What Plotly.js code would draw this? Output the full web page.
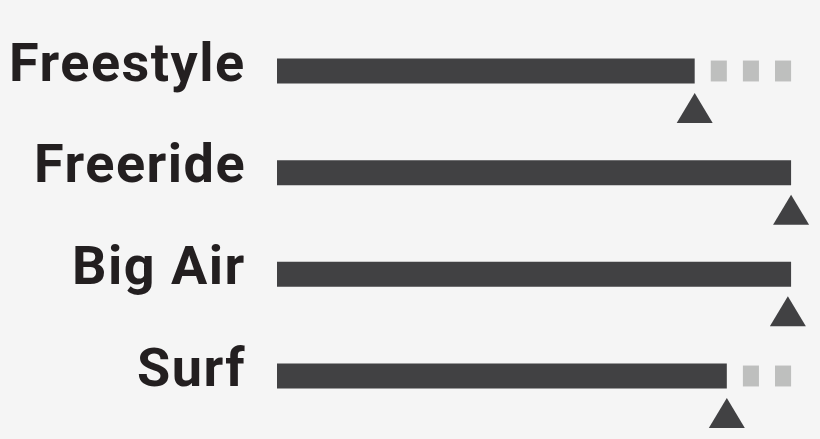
<!DOCTYPE html>
<html>
<head>
<meta charset="utf-8">
<script src="https://cdn.plot.ly/plotly-3.0.1.min.js"></script>
<style>
  html, body { margin: 0; padding: 0; background: #f5f5f5; }
  #plot { width: 820px; height: 439px; }
  .annotation-text { letter-spacing: 1.5px; }
</style>
</head>
<body>
<div id="plot"></div>
<script>
var categories = ['Freestyle', 'Freeride', 'Big Air', 'Surf'];
var scores = [13, 16, 16, 14];
var targets = [13, 16, 15.9, 14];
var maxScore = 16;

// rows from top to bottom
var rows = categories.map((_, i) => categories.length - 1 - i);

// grey dashes fill the rest of the scale, one per step
var dashY = [], dashBase = [], dashLen = [];
scores.forEach((s, i) => {
    for (var k = Math.ceil(s); k < maxScore; k++) {
        dashY.push(rows[i]);
        dashBase.push(k + 0.5);
        dashLen.push(0.5);
    }
});

var dark = '#414143';

var data = [
    {type: 'bar', orientation: 'h', y: dashY, x: dashLen, base: dashBase,
     width: 0.206, marker: {color: '#bebfbe'}, hoverinfo: 'skip'},
    {type: 'bar', orientation: 'h', y: rows, x: scores, base: 0,
     width: 0.246, marker: {color: dark}, hoverinfo: 'skip'}
];

// triangles sit just under each bar, pointing up at the target
var shapes = targets.map((t, i) => ({
    type: 'path', xref: 'x', yref: 'y',
    xsizemode: 'pixel', ysizemode: 'pixel',
    xanchor: t, yanchor: rows[i],
    path: 'M0,-22 L18,-52 L-18,-52 Z',
    fillcolor: dark, line: {width: 0}
}));

var annotations = categories.map((c, i) => ({
    text: c, xref: 'paper', yref: 'y', x: 0, y: rows[i],
    xanchor: 'right', yanchor: 'middle', xshift: -29, yshift: 9,
    showarrow: false,
    font: {family: 'Roboto', size: 54, weight: 'bold', color: '#231f20'}
}));

var layout = {
    width: 820, height: 439,
    margin: {l: 277, r: 0, t: 10, b: 2},
    paper_bgcolor: '#f5f5f5', plot_bgcolor: '#f5f5f5',
    barmode: 'overlay',
    showlegend: false,
    xaxis: {range: [0, 16.9], visible: false, fixedrange: true},
    yaxis: {range: [-0.6, 3.6], visible: false, fixedrange: true},
    shapes: shapes,
    annotations: annotations
};

Plotly.newPlot('plot', data, layout, {displayModeBar: false, staticPlot: true});
</script>
</body>
</html>
